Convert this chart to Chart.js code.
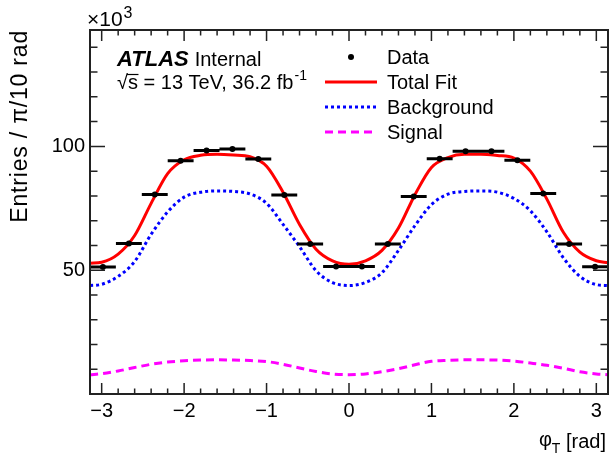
<!DOCTYPE html>
<html>
<head>
<meta charset="utf-8">
<script src="https://cdn.jsdelivr.net/npm/chart.js@4.4.1/dist/chart.umd.min.js"></script>
<style>
html,body{margin:0;padding:0;background:#fff;}
#wrap{width:612px;height:461px;position:relative;}
</style>
</head>
<body>
<div id="wrap"><canvas id="c"></canvas></div>
<script>
// ---------- data (values in units of 10^3 entries) ----------
const binCenters = [-2.985, -2.670, -2.356, -2.042, -1.728, -1.414, -1.100, -0.785, -0.471, -0.157,
                     0.157,  0.471,  0.785,  1.100,  1.414,  1.728,  2.042,  2.356,  2.670,  2.985];
const binWidth = Math.PI / 10;
const dataValues = [51.3, 60.8, 80.6, 94.2, 98.3, 98.9, 94.9, 80.4, 60.6, 51.5,
                    51.5, 60.6, 79.8, 95.0, 98.0, 98.0, 94.4, 81.0, 60.6, 51.4];

const curveX = [-3.14, -3.0, -2.8, -2.6, -2.4, -2.2, -2.0, -1.8, -1.6, -1.4, -1.2, -1.0, -0.8, -0.6, -0.4, -0.2,
                 0.0, 0.2, 0.4, 0.6, 0.8, 1.0, 1.2, 1.4, 1.6, 1.8, 2.0, 2.2, 2.4, 2.6, 2.8, 3.0, 3.14];
const totalFit = [52.8, 53.2, 56.5, 64.0, 77.0, 89.0, 94.6, 96.4, 96.8, 96.5, 95.8, 92.0, 81.5, 68.5, 58.5, 53.8,
                  52.4, 53.8, 58.0, 67.0, 80.5, 91.5, 95.5, 96.8, 96.8, 96.3, 95.3, 90.0, 78.7, 65.3, 57.3, 53.8, 53.0];
const background = [43.8, 44.3, 47.5, 53.5, 64.5, 73.5, 79.5, 81.5, 82.0, 81.8, 80.8, 77.0, 68.5, 59.5, 49.8, 45.0,
                    43.8, 45.0, 49.0, 58.0, 68.0, 76.5, 80.7, 81.8, 82.0, 81.5, 79.0, 74.0, 65.5, 55.0, 47.5, 44.2, 43.8];
const signal = [7.8, 8.2, 9.3, 10.7, 12.0, 12.9, 13.4, 13.7, 13.8, 13.7, 13.5, 13.1, 12.0, 10.5, 9.1, 8.1,
                7.8, 8.1, 9.0, 10.2, 11.8, 13.2, 13.6, 13.8, 13.8, 13.7, 13.3, 12.5, 11.6, 10.4, 9.0, 8.1, 7.8];

const xTickValues = [-3, -2, -1, 0, 1, 2, 3];
const yTickValues = [50, 100];
const xRange = [-Math.PI, Math.PI];
const yRange = [0, 147];

const legendLabels = ['Data', 'Total Fit', 'Background', 'Signal'];
const yTitle = 'Entries / \u03c0/10 rad';

// ---------- build datasets ----------
const FONT = "'Liberation Sans', Arial, Helvetica, sans-serif";
const pts = (xs, ys) => xs.map((x, i) => ({x: x, y: ys[i]}));
const barPts = [];
binCenters.forEach((c, i) => {
  barPts.push({x: c - binWidth / 2, y: dataValues[i]});
  barPts.push({x: c + binWidth / 2, y: dataValues[i]});
  barPts.push({x: c, y: null});
});

const datasets = [
  {label: legendLabels[0], data: pts(binCenters, dataValues), showLine: false,
   pointRadius: 3, pointBackgroundColor: '#000', pointBorderColor: '#000', pointBorderWidth: 0, kind: 'dot'},
  {label: 'bins', data: barPts, showLine: true, spanGaps: false, borderColor: '#000', borderWidth: 3,
   pointRadius: 0, skipLegend: true},
  {label: legendLabels[1], data: pts(curveX, totalFit), borderColor: '#ff0000', borderWidth: 3,
   pointRadius: 0, cubicInterpolationMode: 'monotone', kind: 'line'},
  {label: legendLabels[2], data: pts(curveX, background), borderColor: '#0000ff', borderWidth: 3,
   borderDash: [3, 3], pointRadius: 0, cubicInterpolationMode: 'monotone', kind: 'line'},
  {label: legendLabels[3], data: pts(curveX, signal), borderColor: '#ff00ff', borderWidth: 3,
   borderDash: [8, 5], pointRadius: 0, cubicInterpolationMode: 'monotone', kind: 'line'}
];

// ---------- plugin: frame, inward ticks, annotations, legend ----------
const rootStyle = {
  id: 'rootStyle',
  afterDatasetsDraw(chart) {
    const {ctx, chartArea: a, scales: {x, y}} = chart;
    ctx.save();
    ctx.strokeStyle = '#222';
    ctx.lineWidth = 1.5;
    ctx.beginPath();
    for (let v = -3.0; v <= 3.001; v += 0.2) {
      const px = x.getPixelForValue(v);
      const isMajor = Math.abs(v - Math.round(v)) < 1e-6;
      const L = isMajor ? 11 : 5.5;
      ctx.moveTo(px, a.bottom); ctx.lineTo(px, a.bottom - L);
      ctx.moveTo(px, a.top); ctx.lineTo(px, a.top + L);
    }
    for (let v = 10; v < yRange[1]; v += 10) {
      const py = y.getPixelForValue(v);
      const L = (v % 50 === 0) ? 15 : 7.5;
      ctx.moveTo(a.left, py); ctx.lineTo(a.left + L, py);
      ctx.moveTo(a.right, py); ctx.lineTo(a.right - L, py);
    }
    ctx.stroke();
    ctx.lineWidth = 2;
    ctx.strokeRect(a.left, a.top, a.right - a.left, a.bottom - a.top);
    ctx.restore();
  },
  afterDraw(chart) {
    const {ctx, chartArea: a} = chart;
    ctx.save();
    ctx.fillStyle = '#000';
    ctx.textBaseline = 'alphabetic';

    // x10^3
    ctx.font = `21px ${FONT}`;
    ctx.textAlign = 'left';
    ctx.fillText('\u00d710', a.left - 3, 26);
    const w10 = ctx.measureText('\u00d710').width;
    ctx.font = `16px ${FONT}`;
    ctx.fillText('3', a.left - 3 + w10 + 1, 18);

    // ATLAS Internal
    ctx.font = `italic bold 22px ${FONT}`;
    ctx.fillText('ATLAS', 117, 66);
    const wA = ctx.measureText('ATLAS').width;
    ctx.font = `20px ${FONT}`;
    ctx.fillText('Internal', 117 + wA + 6, 66);

    // sqrt(s) line
    ctx.font = `20px ${FONT}`;
    const line2 = '\u221as = 13 TeV, 36.2 fb';
    ctx.fillText(line2, 117, 89);
    const wsq = ctx.measureText('\u221a').width;
    const ws = ctx.measureText('s').width;
    ctx.strokeStyle = '#000';
    ctx.lineWidth = 1.2;
    ctx.beginPath();
    ctx.moveTo(117 + wsq - 1, 74.5); ctx.lineTo(117 + wsq + ws + 0.5, 74.5);
    ctx.stroke();
    const wl2 = ctx.measureText(line2).width;
    ctx.font = `14px ${FONT}`;
    ctx.fillText('-1', 117 + wl2 + 1, 80);

    // legend
    const rowY = [57, 82, 107, 132];
    let r = 0;
    chart.data.datasets.forEach((ds) => {
      if (ds.skipLegend) return;
      const yy = rowY[r++];
      if (ds.kind === 'dot') {
        ctx.beginPath();
        ctx.fillStyle = ds.pointBackgroundColor;
        ctx.arc(351, yy, ds.pointRadius, 0, Math.PI * 2);
        ctx.fill();
      } else {
        ctx.beginPath();
        ctx.strokeStyle = ds.borderColor;
        ctx.lineWidth = ds.borderWidth;
        ctx.setLineDash(ds.borderDash || []);
        ctx.moveTo(325, yy); ctx.lineTo(377, yy);
        ctx.stroke();
        ctx.setLineDash([]);
      }
      ctx.fillStyle = '#000';
      ctx.font = `20px ${FONT}`;
      ctx.textAlign = 'left';
      ctx.textBaseline = 'middle';
      ctx.fillText(ds.label, 387, yy + 1);
      ctx.textBaseline = 'alphabetic';
    });

    // x axis title: phi_T [rad], right aligned at frame end
    ctx.font = `20px ${FONT}`;
    const wRad = ctx.measureText(' [rad]').width;
    const xEnd = a.right - 2;
    ctx.fillText(' [rad]', xEnd - wRad, 448);
    ctx.font = `14px ${FONT}`;
    const wT = ctx.measureText('T').width;
    ctx.fillText('T', xEnd - wRad - wT, 453);
    ctx.font = `20px ${FONT}`;
    const wPhi = ctx.measureText('\u03c6').width;
    ctx.fillText('\u03c6', xEnd - wRad - wT - wPhi, 446);

    // y axis title, rotated, right aligned at frame top
    ctx.save();
    ctx.translate(27, a.top);
    ctx.rotate(-Math.PI / 2);
    ctx.textAlign = 'right';
    ctx.font = `23px ${FONT}`;
    try { ctx.letterSpacing = '0.8px'; } catch (e) {}
    ctx.fillText(yTitle, 0, 0);
    ctx.restore();

    ctx.restore();
  }
};

new Chart(document.getElementById('c'), {
  type: 'line',
  data: {datasets: datasets},
  options: {
    responsive: true,
    maintainAspectRatio: false,
    animation: false,
    devicePixelRatio: 1,
    layout: {padding: {left: 0, top: 30, right: 3, bottom: 0}},
    plugins: {legend: {display: false}, tooltip: {enabled: false}},
    scales: {
      x: {
        type: 'linear', min: xRange[0], max: xRange[1],
        grid: {display: false, drawTicks: false},
        border: {display: false},
        afterBuildTicks: (s) => { s.ticks = xTickValues.map(v => ({value: v})); },
        afterFit: (s) => { s.height = 67; },
        ticks: {
          color: '#000', padding: 5, maxRotation: 0, autoSkip: false,
          font: {family: FONT, size: 20},
          callback: (v) => String(v).replace('-', '\u2212')
        }
      },
      y: {
        type: 'linear', min: yRange[0], max: yRange[1],
        grid: {display: false, drawTicks: false},
        border: {display: false},
        afterBuildTicks: (s) => { s.ticks = yTickValues.map(v => ({value: v})); },
        afterFit: (s) => { s.width = 90; },
        ticks: {
          color: '#000', padding: 5, autoSkip: false,
          font: {family: FONT, size: 20},
          callback: (v) => String(v)
        }
      }
    }
  },
  plugins: [rootStyle]
});
</script>
</body>
</html>
